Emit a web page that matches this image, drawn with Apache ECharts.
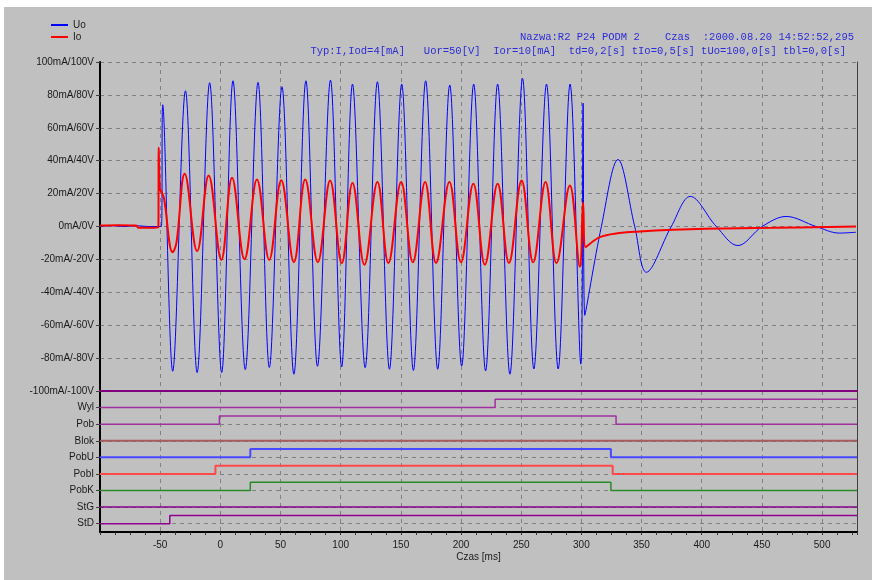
<!DOCTYPE html>
<html>
<head>
<meta charset="utf-8">
<title>Uo / Io</title>
<script src="https://cdn.jsdelivr.net/npm/echarts@6/dist/echarts.min.js"></script>
<style>
  html, body { margin: 0; padding: 0; background: #ffffff; }
  #bg { position: absolute; left: 4px; top: 7px; width: 868px; height: 573px; background: #c0c0c0; }
  #myChart { position: absolute; left: 0; top: 0; width: 872px; height: 580px; }
</style>
</head>
<body>
<div id="bg"></div>
<div id="myChart"></div>
<script>
// naglowek rejestracji
var header1 = 'Nazwa:R2 P24 PODM 2    Czas  :2000.08.20 14:52:52,295';
var header2 = 'Typ:I,Iod=4[mA]   Uor=50[V]  Ior=10[mA]  td=0,2[s] tIo=0,5[s] tUo=100,0[s] tbl=0,0[s]';

// os czasu [ms]
var timeMin = -100;
var timeMax = 529;
var timeStep = 50;

// Uo [V] - punkty [czas ms, wartosc]
var uo = [
  [-100, 0], [-90, 0.5], [-80, 0], [-70, 0.5], [-60, 0], [-52, 0], [-49, 0],
  [-47.9, 74], [-39.6, -88],
  [-29.0, 82.5], [-19.3, -88.8],
  [-8.9, 87.4], [1.1, -88.8],
  [10.5, 88.6], [20.7, -87],
  [31.3, 87.6], [40.7, -85.7],
  [51.2, 85], [61.1, -89.8],
  [71.1, 88.6], [80.7, -85],
  [91.5, 89], [100.8, -85.4],
  [109.8, 86.6], [120.3, -85.8],
  [130.5, 88], [140.5, -86.8],
  [150.7, 86.6], [160.4, -87.5],
  [170.6, 88.6], [180.6, -86.8],
  [190.6, 86], [200.5, -84.8],
  [210.5, 86.6], [220.4, -87.8],
  [230.4, 86.6], [240.6, -89.8],
  [251.1, 90], [260.5, -86.6],
  [271, 86.6], [280.7, -86.6],
  [290.6, 86.6], [299.5, -83.7],
  [301.4, 75], [302.8, -54],
  [316.6, 0], [330.4, 40.7], [344.3, 0], [354, -27.8], [374.7, 0],
  [390.5, 18.3], [412.1, 0], [430, -11.6], [450.2, 0], [470.1, 6.1],
  [495, 0], [514.3, -4], [528.2, -3.5]
];

// Io [mA]
var io = [
  [-100, 0.6], [-85, 0.8], [-70, 0.6], [-68, -0.8], [-55, -0.8], [-51.5, -0.5],
  [-51.2, 48], [-50.2, 23], [-48.5, 20.5], [-46.8, 17], [-39.6, -15.6], [-36.5, -10],
  [-29.6, 32], [-19.3, -15], [-9.7, 31], [0.8, -20.3], [9.7, 29.7], [20.1, -19.9],
  [30.4, 28.5], [40.6, -20.3], [50.6, 28.1], [61.1, -21.7], [70.5, 28.5], [81, -21.7],
  [91.2, 28], [100.9, -22.3], [109.8, 26.4], [119.7, -23.2], [130.5, 27], [139.6, -22.2],
  [150.2, 27], [159.9, -21.8], [170.1, 27], [179.2, -22.2], [190.3, 27], [199.9, -21.8],
  [210.2, 26], [219.8, -23.2], [230.4, 26], [239.8, -22.2], [250.3, 28], [259.9, -21.8],
  [270.2, 27], [279.3, -22.2], [290.4, 25], [298.7, -24.4],
  [301.4, 14.8], [303.4, -12.6], [315.3, -6.5], [331.8, -4], [348.4, -3],
  [376, -2], [403.8, -1.4], [458.8, -0.8], [528.2, 0]
];

// kanaly dwustanowe: [czas ms, stan]
var channelNames = ['Wyl', 'Pob', 'Blok', 'PobU', 'PobI', 'PobK', 'StG', 'StD'];
var wylStates  = [[-100, 0], [228.3, 1], [529, 1]];
var pobStates  = [[-100, 0], [-0.8, 1], [328.8, 0], [529, 0]];
var blokStates = [[-100, 0], [529, 0]];
var pobUStates = [[-100, 0], [24.9, 1], [324.5, 0], [529, 0]];
var pobIStates = [[-100, 0], [-4.1, 1], [326, 0], [529, 0]];
var pobKStates = [[-100, 0], [24.9, 1], [324.5, 0], [529, 0]];
var stGStates  = [[-100, 0], [529, 0]];
var stDStates  = [[-100, 0], [-42, 1], [529, 1]];

var channelStates = [wylStates, pobStates, blokStates, pobUStates, pobIStates, pobKStates, stGStates, stDStates];
var channelColors = ['#a030a0', '#a030a0', '#a45c5c', '#4848ff', '#ff4848', '#2a8a2a', '#880088', '#900090'];
var channelWidths = [1.5, 1.5, 2, 2, 2, 1.5, 1.5, 1.5];

var font = "'Liberation Sans', Arial, sans-serif";
var dashed = { show: true, lineStyle: { type: [4, 4], color: '#808080', width: 1 } };

var myChart = echarts.init(document.getElementById('myChart'));

var baseVals = channelNames.map(function (n, i) { return channelNames.length - i - 0.5; });

var series = [
  {
    name: 'Uo', type: 'line', xAxisIndex: 0, yAxisIndex: 0,
    data: uo, smooth: 0.35, symbol: 'none', showSymbol: false,
    color: '#0000ff', lineStyle: { color: '#0000ff', width: 1 }
  },
  {
    name: 'Io', type: 'line', xAxisIndex: 0, yAxisIndex: 0,
    data: io, smooth: 0.4, symbol: 'none', showSymbol: false,
    color: '#ff0000', lineStyle: { color: '#ff0000', width: 2 }
  }
];
channelStates.forEach(function (states, i) {
  var base = baseVals[i];
  series.push({
    name: channelNames[i], type: 'line', xAxisIndex: 1, yAxisIndex: 1,
    step: 'end', symbol: 'none', showSymbol: false,
    data: states.map(function (p) { return [p[0], base + 0.5 * p[1]]; }),
    lineStyle: { color: channelColors[i], width: channelWidths[i] }
  });
});

myChart.setOption({
  animation: false,
  backgroundColor: 'transparent',
  textStyle: { fontFamily: font },
  title: [
    { text: header1, right: 18, top: 31, padding: 0,
      textStyle: { fontFamily: "'Liberation Mono', monospace", fontSize: 10.5, fontWeight: 'normal', color: '#2b2bd9', lineHeight: 12 } },
    { text: header2, right: 26, top: 45, padding: 0,
      textStyle: { fontFamily: "'Liberation Mono', monospace", fontSize: 10.5, fontWeight: 'normal', color: '#2b2bd9', lineHeight: 12 } }
  ],
  legend: {
    orient: 'vertical', left: 50, top: 20, padding: 0,
    itemWidth: 17, itemHeight: 10, itemGap: 2,
    itemStyle: { opacity: 0 },
    textStyle: { fontSize: 10, color: '#1a1a1a', fontFamily: font },
    data: ['Uo', 'Io']
  },
  grid: [
    { left: 100, right: 15, top: 62, height: 329 },
    { left: 100, right: 15, top: 391, height: 141 }
  ],
  xAxis: [
    {
      gridIndex: 0, type: 'value', min: timeMin, max: timeMax, interval: timeStep,
      axisLine: { show: true, onZero: false, lineStyle: { color: '#800080', width: 2 } },
      axisTick: { show: false }, axisLabel: { show: false },
      splitLine: dashed
    },
    {
      gridIndex: 1, type: 'value', min: timeMin, max: timeMax, interval: timeStep,
      name: 'Czas [ms]', nameLocation: 'middle', nameGap: 20,
      nameTextStyle: { fontSize: 10, color: '#1a1a1a', fontFamily: font },
      axisLine: { show: true, onZero: false, lineStyle: { color: '#000000', width: 2 } },
      axisTick: { show: true, length: 3, lineStyle: { color: '#303030' } },
      minorTick: { show: true, splitNumber: 4, length: 3, lineStyle: { color: '#303030' } },
      axisLabel: { margin: 8, fontSize: 10, color: '#1a1a1a', showMinLabel: false, showMaxLabel: false },
      splitLine: dashed
    }
  ],
  yAxis: [
    {
      gridIndex: 0, type: 'value', min: -100, max: 100, interval: 20,
      axisLine: { show: true, onZero: false, lineStyle: { color: '#000000', width: 2 } },
      axisTick: { show: true, length: 4, lineStyle: { color: '#404040' } },
      axisLabel: {
        margin: 6, fontSize: 10, color: '#1a1a1a',
        formatter: function (v) { return v + 'mA/' + v + 'V'; }
      },
      splitLine: dashed
    },
    {
      gridIndex: 1, type: 'value', min: 0, max: channelNames.length + 0.5,
      axisLine: { show: true, onZero: false, lineStyle: { color: '#000000', width: 2 } },
      axisTick: { show: true, length: 4, customValues: baseVals, lineStyle: { color: '#404040' } },
      axisLabel: {
        margin: 6, fontSize: 10, color: '#1a1a1a', customValues: baseVals,
        formatter: function (v) {
          var i = channelNames.length - 0.5 - v;
          return channelNames[Math.round(i)] || '';
        }
      },
      splitLine: dashed
    },
    {
      gridIndex: 0, type: 'value', position: 'right', min: -100, max: 100,
      axisLine: { show: true, onZero: false, lineStyle: { color: '#404040', width: 1 } },
      axisTick: { show: false }, axisLabel: { show: false }, splitLine: { show: false }
    },
    {
      gridIndex: 1, type: 'value', position: 'right', min: 0, max: channelNames.length + 0.5,
      axisLine: { show: true, onZero: false, lineStyle: { color: '#404040', width: 1 } },
      axisTick: { show: false }, axisLabel: { show: false }, splitLine: { show: false }
    }
  ],
  series: series
});

window.onresize = function () {
  myChart.resize();
};
</script>
</body>
</html>
